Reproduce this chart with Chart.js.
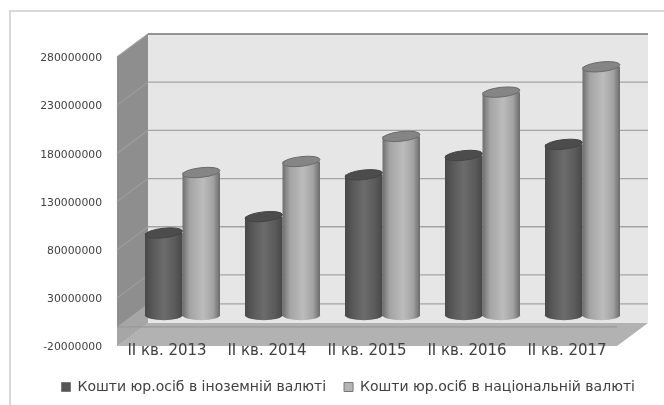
<!DOCTYPE html>
<html><head><meta charset="utf-8">
<style>html,body{margin:0;padding:0;background:#fff;overflow:hidden}
#w{width:664px;height:405px}canvas{filter:blur(0.65px)}</style>
<script src="https://cdn.jsdelivr.net/npm/chart.js@4"></script></head>
<body><div id="w"><canvas id="c" width="664" height="405"></canvas></div>
<script>
const categories=["II кв. 2013","II кв. 2014","II кв. 2015","II кв. 2016","II кв. 2017"];
const foreignValues=[85400000,102400000,145800000,165900000,177400000];
const nationalValues=[148200000,159700000,185700000,231600000,257900000];
const seriesNames=["Кошти юр.осіб в іноземній валюті","Кошти юр.осіб в національній валюті"];
const yTicks=[-20000000,30000000,80000000,130000000,180000000,230000000,280000000];

const DX=15.5,DY=11.5,RY=4.8,TILT=-.11;
const shades=[
 {stops:[[0,'#484848'],[.2,'#585858'],[.5,'#6c6c6c'],[.8,'#5a5a5a'],[1,'#484848']],top:'#4c4c4c',line:'#444444',flat:'#555555'},
 {stops:[[0,'#6e6e6e'],[.2,'#a4a4a4'],[.55,'#bcbcbc'],[.82,'#a2a2a2'],[1,'#6a6a6a']],top:'#858585',line:'#6a6a6a',flat:'#b4b4b4'}
];
function grad(ctx,x0,x1,s){
  const g=ctx.createLinearGradient(x0,0,x1,0);
  s.stops.forEach(p=>g.addColorStop(p[0],p[1]));
  return g;
}
const scene={id:'scene',
 afterLayout(ch){ch.legend.left+=32;ch.legend.right+=32;},
 beforeDraw(ch){
  const c=ch.ctx,{left:L,right:R,top:T,bottom:B}=ch.chartArea,y=ch.scales.y;
  c.save();
  c.fillStyle='#fff';c.fillRect(0,0,664,405);
  c.strokeStyle='#d8d8d8';c.lineWidth=2;c.beginPath();c.moveTo(10,405);c.lineTo(10,11);c.lineTo(664,11);c.stroke();
  const fx0=L-DX,fx1=R-DX,bx0=L+DX,bx1=R+DX,fT=T+DY,fB=B+DY,bT=T-DY,bB=B-DY;
  const poly=(p,f)=>{c.fillStyle=f;c.beginPath();p.forEach((q,i)=>i?c.lineTo(q[0],q[1]):c.moveTo(q[0],q[1]));c.closePath();c.fill();};
  const zero=y.getPixelForValue(0);
  poly([[bx0,bT],[bx1,bT],[bx1,bB],[bx0,bB]],'#e6e6e6');
  poly([[fx0,fT],[bx0,bT],[bx0,bB],[fx0,fB]],'#8e8e8e');
  poly([[fx0,zero+DY],[bx0,zero-DY],[bx0,bB],[fx0,fB]],'#a6a6a6');
  poly([[bx0,bB],[bx1,bB],[fx1,fB],[fx0,fB]],'#b2b2b2');
  c.lineWidth=1.3;
  yTicks.forEach(v=>{ if(v===yTicks[0])return;
    const p=y.getPixelForValue(v);
    c.strokeStyle=v===yTicks[yTicks.length-1]?'#757575':'#a4a4a4';
    c.beginPath();c.moveTo(bx0,p-DY);c.lineTo(bx1,p-DY);c.stroke();
    c.strokeStyle='#9c9c9c';
    c.beginPath();c.moveTo(fx0,p+DY);c.lineTo(bx0,p-DY);c.stroke();
  });
  c.strokeStyle='#a4a4a4';c.beginPath();c.moveTo(bx0,zero-DY);c.lineTo(bx1,zero-DY);c.stroke();
  c.strokeStyle='#989898';c.beginPath();c.moveTo(fx0,zero+DY);c.lineTo(fx1,zero+DY);c.stroke();
  c.restore();
 },
 beforeDatasetDraw(ch,a){
  const c=ch.ctx,s=shades[a.index];
  ch.getDatasetMeta(a.index).data.forEach(el=>{
    const w=el.width/2,g=grad(c,el.x-w,el.x+w,s);
    el.options={...el.options,backgroundColor:g};
    c.save();c.fillStyle=g;
    c.beginPath();c.ellipse(el.x,el.base,w,RY,0,0,Math.PI*2);c.fill();c.restore();
  });
 },
 afterDatasetsDraw(ch){
  const c=ch.ctx;
  [0,1].forEach(i=>ch.getDatasetMeta(i).data.forEach(el=>{
    const w=el.width/2;
    c.save();
    c.fillStyle=shades[i].top;c.strokeStyle=shades[i].line;c.lineWidth=1;
    c.beginPath();c.ellipse(el.x,el.y,w,RY,TILT,0,Math.PI*2);c.fill();c.stroke();c.restore();
  }));
 }
};
Chart.register(scene);
new Chart(document.getElementById('c'),{
 type:'bar',
 data:{labels:categories,datasets:[
  {label:seriesNames[0],data:foreignValues,backgroundColor:shades[0].flat,borderWidth:0,categoryPercentage:.75,barPercentage:1},
  {label:seriesNames[1],data:nationalValues,backgroundColor:shades[1].flat,borderWidth:0,categoryPercentage:.75,barPercentage:1}
 ]},
 options:{responsive:false,animation:false,
  layout:{padding:{left:0,right:31.5,top:45.5,bottom:1}},
  plugins:{tooltip:{enabled:false},title:{display:false},
   legend:{position:'bottom',labels:{color:'#404040',font:{family:'DejaVu Sans',size:14,weight:'normal'},boxWidth:9,boxHeight:9,padding:18,
     generateLabels(ch){return Chart.defaults.plugins.legend.labels.generateLabels(ch).map(l=>({...l,strokeStyle:'#777',lineWidth:1}));}}}},
  scales:{
   x:{grid:{display:false},border:{display:false},
      ticks:{color:'#404040',font:{family:'DejaVu Sans',size:15},labelOffset:-DX,padding:0,maxRotation:0,autoSkip:false},
      afterFit(s){s.height=27.4;}},
   y:{min:yTicks[0],max:yTicks[yTicks.length-1],grid:{display:false},border:{display:false},
      afterBuildTicks(s){s.ticks=yTicks.map(v=>({value:v}));},
      afterFit(s){s.width=132.5;},
      ticks:{color:'#404040',font:{family:'DejaVu Sans',size:10.8},labelOffset:DY+1.5,padding:22.5,callback:v=>String(v)}}
  }
 }
});
</script></body></html>
